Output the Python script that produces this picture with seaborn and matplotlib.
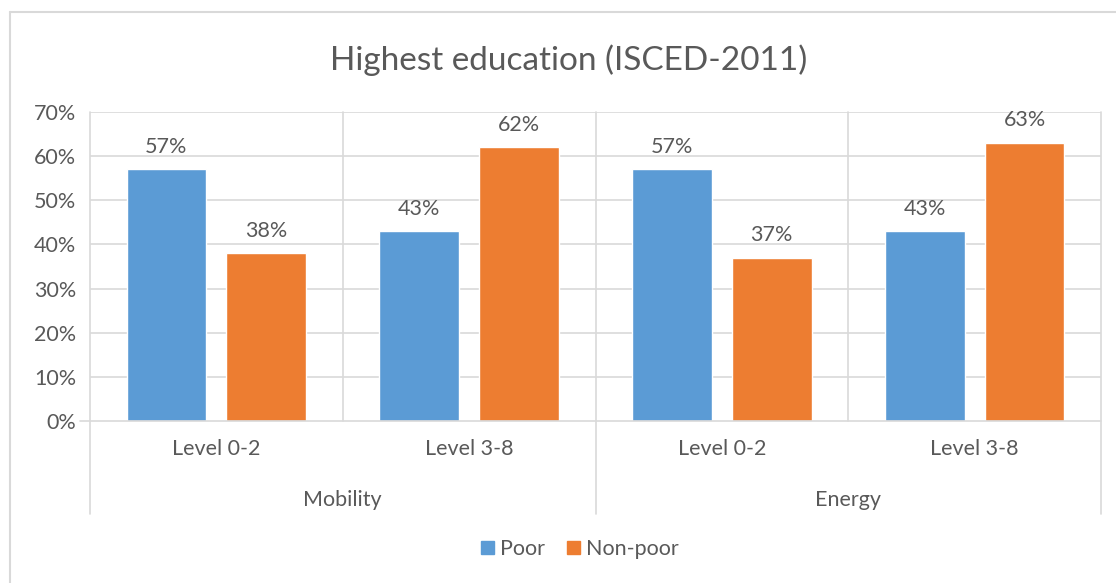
import matplotlib
matplotlib.use("Agg")
import matplotlib.pyplot as plt
import matplotlib.patches as mpatches
import matplotlib.transforms as mtransforms
import seaborn as sns
import pandas as pd

# Data
sectors = ["Mobility", "Mobility", "Energy", "Energy"]
levels = ["Level 0-2", "Level 3-8", "Level 0-2", "Level 3-8"]
poor = [57, 43, 57, 43]
non_poor = [38, 62, 37, 63]
series = ["Poor", "Non-poor"]
y_ticks = [0, 10, 20, 30, 40, 50, 60, 70]

colors = {"Poor": "#5B9BD5", "Non-poor": "#ED7D31"}
text_col = "#595959"
grid_col = "#D9D9D9"
font = ["Lato", "DejaVu Sans"]
fs = 15.5

keys = [f"{s} {l}" for s, l in zip(sectors, levels)]
df = pd.DataFrame({
    "key": keys * 2,
    "series": ["Poor"] * 4 + ["Non-poor"] * 4,
    "value": poor + non_poor,
})

sns.set_theme(style="white")
plt.rcParams["font.family"] = font

fig = plt.figure(figsize=(11.16, 5.83), dpi=100)
ax = fig.add_axes([90 / 1116, 1 - 421 / 583, 1011 / 1116, (421 - 112) / 583])

sns.barplot(data=df, x="key", y="value", hue="series", order=keys,
            hue_order=series, palette=colors, width=0.79, gap=0.2,
            saturation=1, legend=False, ax=ax)

ax.set_ylim(0, 70)
ax.set_xlim(-0.5, 3.5)
ax.set_yticks(y_ticks)
ax.set_yticklabels([f"{t}%" for t in y_ticks], color=text_col, fontsize=fs)
ax.set_xticks(range(4))
ax.set_xticklabels(levels, color=text_col, fontsize=fs)
ax.tick_params(axis="both", length=0)
ax.tick_params(axis="x", pad=13)
ax.tick_params(axis="y", pad=10)
ax.set_xlabel("")
ax.set_ylabel("")

# Horizontal gridlines
for t in y_ticks[1:]:
    ax.axhline(t, color=grid_col, lw=1.2, zorder=0)

for sp in ax.spines.values():
    sp.set_visible(False)

# Vertical separators: between levels inside plot, between sectors extended
trans = mtransforms.blended_transform_factory(ax.transData, ax.transAxes)
for xb in [0.5, 2.5]:
    ax.plot([xb, xb], [0, 1], transform=trans, color=grid_col, lw=1.2,
            zorder=0, clip_on=False)
for xb in [-0.5, 1.5, 3.5]:
    ax.plot([xb, xb], [-0.30, 1], transform=trans, color=grid_col, lw=1.2,
            zorder=0, clip_on=False)
# Axis baseline
ax.plot([-0.54, 3.5], [0, 0], transform=trans, color=grid_col, lw=1.2,
        zorder=3, clip_on=False)

# Value labels
for cont, name in zip(ax.containers, series):
    ax.bar_label(cont, labels=[f"{v:.0f}%" for v in cont.datavalues],
                 padding=9, color=text_col, fontsize=fs)

# Sector labels
for xc, s in [(0.5, "Mobility"), (2.5, "Energy")]:
    ax.text(xc, -0.255, s, transform=trans, ha="center", va="center",
            color=text_col, fontsize=fs)

# Title
fig.text(569 / 1116, 1 - 60 / 583, "Highest education (ISCED-2011)",
         ha="center", va="center", color=text_col, fontsize=24)

# Legend
handles = [mpatches.Patch(color=colors[s], label=s) for s in series]
fig.legend(handles=handles, loc="center", bbox_to_anchor=(580 / 1116, 1 - 549 / 583),
           ncol=2, frameon=False, fontsize=fs, handlelength=0.6, handleheight=0.6,
           handletextpad=0.3, columnspacing=1.0, labelcolor=text_col)

# Chart frame
fig.add_artist(plt.Line2D([10 / 1116, 1], [1 - 12 / 583] * 2, color=grid_col, lw=1.5))
fig.add_artist(plt.Line2D([10 / 1116] * 2, [0, 1 - 12 / 583], color=grid_col, lw=1.5))

fig.savefig("out.png", dpi=100, facecolor="white")
